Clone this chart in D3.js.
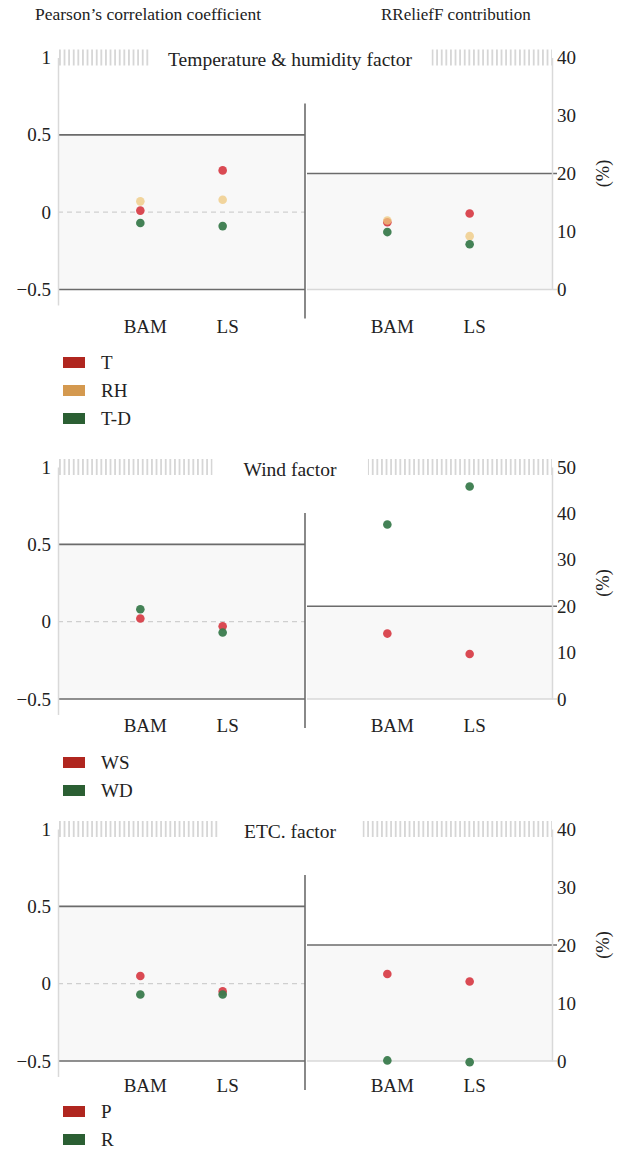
<!DOCTYPE html>
<html>
<head>
<meta charset="utf-8">
<script src="https://cdn.jsdelivr.net/npm/d3@7"></script>
<style>
  html, body { margin: 0; padding: 0; background: #fff; }
  svg { display: block; font-family: "Liberation Serif", "DejaVu Serif", serif; }
</style>
</head>
<body>
<svg id="chart" width="621" height="1149"></svg>
<script>
// ---- data ----
const categories = ["BAM", "LS"];

const pearsonTicks = [-0.5, 0, 0.5, 1];

const thTitle = "Temperature & humidity factor";
const thFactors = ["T", "RH", "T-D"];
const thPearson = [[0.01, 0.27], [0.07, 0.08], [-0.07, -0.09]];
const thRelief = [[11.6, 13.1], [11.9, 9.2], [9.9, 7.8]];
const thReliefTicks = [0, 10, 20, 30, 40];

const windTitle = "Wind factor";
const windFactors = ["WS", "WD"];
const windPearson = [[0.02, -0.03], [0.08, -0.07]];
const windRelief = [[14.1, 9.7], [37.6, 45.8]];
const windReliefTicks = [0, 10, 20, 30, 40, 50];

const etcTitle = "ETC. factor";
const etcFactors = ["P", "R"];
const etcPearson = [[0.05, -0.05], [-0.07, -0.07]];
const etcRelief = [[15.0, 13.7], [0.1, -0.2]];
const etcReliefTicks = [0, 10, 20, 30, 40];

// ---- styling ----
const legendColor = { T: "#b0261f", WS: "#b0261f", P: "#b0261f",
                      RH: "#d4994f",
                      "T-D": "#2b5f33", WD: "#2b5f33", R: "#2b5f33" };
const dotColor = { T: "#d8404a", WS: "#d8404a", P: "#d8404a",
                   RH: "#efc87e",
                   "T-D": "#3a7b4d", WD: "#3a7b4d", R: "#3a7b4d" };
const dotOpacity = { RH: 0.75 };

const svg = d3.select("#chart");
const axisX0 = 58, midX = 305, axisX1 = 552;
const plotH = 232;
const fs = 19;

// striped header pattern
const defs = svg.append("defs");
const pat = defs.append("pattern")
  .attr("id", "stripes").attr("patternUnits", "userSpaceOnUse")
  .attr("width", 4.6).attr("height", 20).attr("x", axisX0 + 1);
pat.append("rect").attr("x", 0).attr("y", 0).attr("width", 1.8).attr("height", 20)
  .attr("fill", "#d6d6d6");

// column headers
svg.append("text").attr("x", 35).attr("y", 20).attr("font-size", 17.5)
  .attr("fill", "#222").text("Pearson’s correlation coefficient");
svg.append("text").attr("x", 381).attr("y", 20).attr("font-size", 17)
  .attr("fill", "#222").text("RReliefF contribution");

function panel(cfg) {
  const g = svg.append("g");
  const top = cfg.top;
  const yL = d3.scaleLinear().domain([-0.5, 1]).range([top + plotH, top]);
  const yR = d3.scaleLinear().domain([0, cfg.rMax]).range([top + plotH, top]);
  const xL = d3.scalePoint().domain(categories).range([axisX0, midX]).padding(1);
  const xR = d3.scalePoint().domain(categories).range([midX, axisX1]).padding(1);

  // shaded bands
  g.append("rect").attr("x", axisX0).attr("y", yL(0.5))
    .attr("width", midX - axisX0).attr("height", yL(-0.5) - yL(0.5)).attr("fill", "#f8f8f8");
  g.append("rect").attr("x", midX + 2).attr("y", yR(20))
    .attr("width", axisX1 - midX - 2).attr("height", yR(0) - yR(20)).attr("fill", "#f8f8f8");

  // zero reference (dashed) on the correlation side
  g.append("line").attr("x1", axisX0).attr("x2", midX).attr("y1", yL(0)).attr("y2", yL(0))
    .attr("stroke", "#cfcfcf").attr("stroke-width", 1.2).attr("stroke-dasharray", "5,4");
  // right baseline
  g.append("line").attr("x1", midX + 2).attr("x2", axisX1 + 5).attr("y1", yR(0)).attr("y2", yR(0))
    .attr("stroke", "#d8d8d8").attr("stroke-width", 1.5);

  // ±0.5 guide lines and 20 % line
  [0.5, -0.5].forEach(v => {
    g.append("line").attr("x1", axisX0).attr("x2", midX).attr("y1", yL(v)).attr("y2", yL(v))
      .attr("stroke", "#6b6b6b").attr("stroke-width", 1.6);
  });
  g.append("line").attr("x1", midX + 2).attr("x2", axisX1 + 5).attr("y1", yR(20)).attr("y2", yR(20))
    .attr("stroke", "#6b6b6b").attr("stroke-width", 1.6);

  // divider
  g.append("line").attr("x1", midX).attr("x2", midX)
    .attr("y1", top + 46).attr("y2", yL(-0.5) + 29)
    .attr("stroke", "#6b6b6b").attr("stroke-width", 1.6);

  // left axis
  const yAxisRange = d3.scaleLinear().domain([-0.6, 1]).range([yL(-0.6), yL(1)]);
  const la = g.append("g").attr("transform", `translate(${axisX0},0)`)
    .call(d3.axisLeft(yAxisRange).tickValues(pearsonTicks).tickSize(0).tickPadding(7)
      .tickFormat(d3.format("")));
  la.select(".domain").attr("stroke", "#d9d9d9").attr("stroke-width", 1.5);
  la.selectAll("text").attr("font-size", fs).attr("fill", "#222")
    .attr("font-family", "Liberation Serif, serif");

  // right axis
  const ra = g.append("g").attr("transform", `translate(${axisX1},0)`)
    .call(d3.axisRight(yR).tickValues(cfg.rTicks).tickSize(0).tickPadding(5));
  ra.select(".domain").attr("stroke", "#d9d9d9").attr("stroke-width", 1.5);
  ra.selectAll("text").attr("font-size", fs).attr("fill", "#222")
    .attr("font-family", "Liberation Serif, serif");

  // (%) label
  g.append("text").attr("transform", `translate(${603},${(yL(1) + yL(-0.5)) / 2}) rotate(-90)`)
    .attr("text-anchor", "middle").attr("dominant-baseline", "central")
    .attr("font-size", 18.5).attr("fill", "#222").text("(%)");

  // striped header with title
  g.append("rect").attr("x", axisX0).attr("y", top - 8).attr("width", axisX1 - axisX0)
    .attr("height", 16).attr("fill", "url(#stripes)");
  const title = g.append("text").attr("x", 290).attr("y", top + 8.5)
    .attr("text-anchor", "middle").attr("font-size", 19.5).attr("fill", "#222").text(cfg.title);
  const bb = title.node().getBBox();
  g.append("rect")
    .attr("x", bb.x - cfg.pad).attr("y", top - 10)
    .attr("width", bb.width + 2 * cfg.pad).attr("height", 20).attr("fill", "#fff");
  title.raise();

  // category labels
  [xL, xR].forEach(x => {
    g.selectAll(null).data(categories).enter().append("text")
      .attr("x", d => x(d) + 5).attr("y", cfg.labelY).attr("text-anchor", "middle")
      .attr("font-size", fs).attr("fill", "#222").text(d => d);
  });

  // dots
  cfg.factors.forEach((f, i) => {
    categories.forEach((c, j) => {
      g.append("circle").attr("cx", xL(c)).attr("cy", yL(cfg.pearson[i][j])).attr("r", 4.3)
        .attr("fill", dotColor[f]).attr("fill-opacity", dotOpacity[f] || 0.95);
      g.append("circle").attr("cx", xR(c)).attr("cy", yR(cfg.relief[i][j])).attr("r", 4.3)
        .attr("fill", dotColor[f]).attr("fill-opacity", dotOpacity[f] || 0.95);
    });
  });

  // legend
  const lg = g.selectAll(null).data(cfg.factors).enter().append("g")
    .attr("transform", (d, i) => `translate(63,${cfg.legendY + i * 28})`);
  lg.append("rect").attr("width", 22).attr("height", 11).attr("fill", d => legendColor[d]);
  lg.append("text").attr("x", 38).attr("y", 11.5).attr("font-size", fs).attr("fill", "#222")
    .text(d => d);
}

panel({ top: 57.5, title: thTitle, factors: thFactors, pearson: thPearson, relief: thRelief,
        rMax: 40, rTicks: thReliefTicks, labelY: 333, legendY: 357, pad: 19 });
panel({ top: 467, title: windTitle, factors: windFactors, pearson: windPearson, relief: windRelief,
        rMax: 50, rTicks: windReliefTicks, labelY: 732, legendY: 757, pad: 31 });
panel({ top: 829, title: etcTitle, factors: etcFactors, pearson: etcPearson, relief: etcRelief,
        rMax: 40, rTicks: etcReliefTicks, labelY: 1092, legendY: 1106, pad: 26 });
</script>
</body>
</html>
